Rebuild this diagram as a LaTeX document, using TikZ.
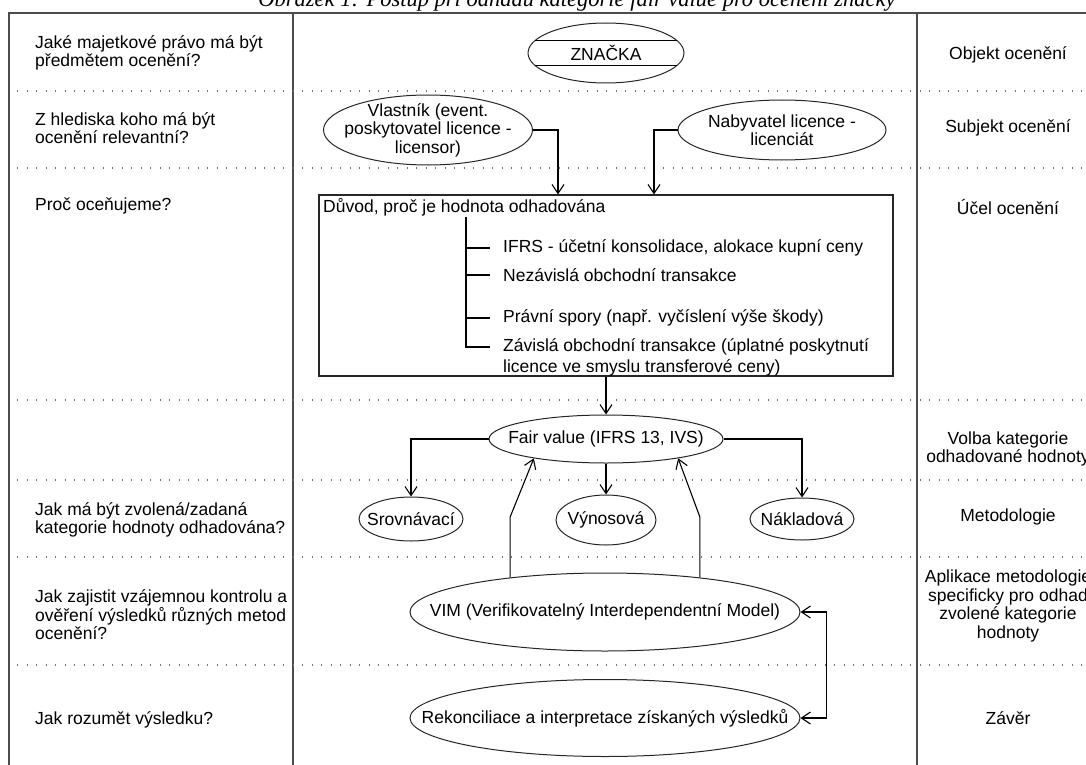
\documentclass[tikz,border=0pt]{standalone}
\usepackage{fontspec}
\setmainfont{Liberation Sans}
\newfontfamily\captionfont{Liberation Serif}
\usetikzlibrary{shapes.geometric,arrows.meta}

\tikzset{
    % Frame and row separators
    vo frame/.style={line width=1.5pt, black!70},
    vo rowline/.style={line width=1.2pt, black!55, dash pattern=on 1.2pt off 8.3pt},
    vo title/.style={font=\captionfont\itshape\fontsize{22.5pt}{24pt}\selectfont,
                     inner sep=0pt, anchor=base},
    % Texts
    vo txt/.style={font=\fontsize{17.5pt}{18.5pt}\selectfont, inner sep=0pt},
    vo ask/.style={vo txt, anchor=west, align=left},
    vo aim/.style={vo txt, align=center},
    % Shapes
    vo oval/.style={ellipse, draw=black!85, line width=1pt, inner sep=0pt},
    vo box/.style={rectangle, draw=black!85, line width=1.1pt},
    vo tree/.style={line width=1.1pt},
    vo arr/.style={-{Straight Barb[length=9pt,width=12pt]}, line width=1.1pt},
    vo both/.style={{Straight Barb[length=9pt,width=12pt]}-{Straight Barb[length=9pt,width=12pt]},
                    line width=1.1pt},
}

\begin{document}
\begin{tikzpicture}[x=1pt, y=-1pt]
    \useasboundingbox (0,0) rectangle (1086,765);
    \clip (0,0) rectangle (1086,765);
    % Caption (cut by the page top)
    \node[vo title] (caption) at (577,7)
        {Obrázek 1: Postup při odhadu kategorie fair value pro ocenění značky};
    % Frame
    \draw[vo frame] (1086,13) -- (9,13) -- (9,765);
    \draw[vo frame] (293,13) -- (293,765);
    \draw[vo frame] (917,13) -- (917,765);
    % Row separators
    \foreach \y in {91,168,400,480,557,665}
        \draw[vo rowline] (17,\y) -- (1086,\y);
    % Questions (left column)
    \node[vo ask] (q1) at (35,53) {Jaké majetkové právo má být\\předmětem ocenění?};
    \node[vo ask] (q2) at (35,128) {Z hlediska koho má být\\ocenění relevantní?};
    \node[vo ask] (q3) at (35,206) {Proč oceňujeme?};
    \node[vo ask] (q4) at (35,520) {Jak má být zvolená/zadaná\\kategorie hodnoty odhadována?};
    \node[vo ask] (q5) at (35,615)
        {Jak zajistit vzájemnou kontrolu a\\ověření výsledků různých metod\\ocenění?};
    \node[vo ask] (q6) at (35,720) {Jak rozumět výsledku?};
    % Steps (right column)
    \node[vo aim] (a1) at (1008,55) {Objekt ocenění};
    \node[vo aim] (a2) at (1008,128) {Subjekt ocenění};
    \node[vo aim] (a3) at (1008,207) {Účel ocenění};
    \node[vo aim] (a4) at (1008,449) {Volba kategorie\\odhadované hodnoty};
    \node[vo aim] (a5) at (1008,517) {Metodologie};
    \node[vo aim] (a6) at (1008,606)
        {Aplikace metodologie\\specificky pro odhad\\zvolené kategorie\\hodnoty};
    \node[vo aim] (a7) at (1008,718) {Závěr};
    % Object
    \node[vo oval, minimum width=156pt, minimum height=60pt] (znacka) at (606,53) {};
    \node[vo txt] at (znacka) {ZNAČKA};
    \draw[line width=1pt] (znacka.170) -- (znacka.10);
    \draw[line width=1pt] (znacka.190) -- (znacka.-10);
    % Subjects
    \node[vo oval, minimum width=209pt, minimum height=70pt] (vlastnik) at (428,130) {};
    \node[vo txt, align=center] at (vlastnik)
        {Vlastník (event.\\poskytovatel licence -\\licensor)};
    \node[vo oval, minimum width=208pt, minimum height=60pt] (nabyvatel) at (782,130) {};
    \node[vo txt, align=center] at (nabyvatel) {Nabyvatel licence -\\licenciát};
    % Purpose box
    \node[vo box, minimum width=574pt, minimum height=181pt] (duvod) at (606,285.5) {};
    \node[vo txt, anchor=west] (duvodlbl) at (323,207) {Důvod, proč je hodnota odhadována};
    \node[vo txt, anchor=west] (ifrs) at (503,248) {IFRS - účetní konsolidace, alokace kupní ceny};
    \node[vo txt, anchor=west] (nezav) at (503,275) {Nezávislá obchodní transakce};
    \node[vo txt, anchor=west] (spory) at (503,318) {Právní spory (např. vyčíslení výše škody)};
    \node[vo txt, anchor=west] (zavis) at (503,347) {Závislá obchodní transakce (úplatné poskytnutí};
    \node[vo txt, anchor=west] (zavis2) at (503,368) {licence ve smyslu transferové ceny)};
    \coordinate (trunk) at (466,217);
    \draw[vo tree] (trunk) |- ([xshift=-13pt]zavis.west);
    \foreach \item in {ifrs,nezav,spory}
        \draw[vo tree] (trunk |- \item.west) -- ([xshift=-13pt]\item.west);
    \draw[vo arr] (vlastnik.east) -| ([xshift=-48pt]duvod.north);
    \draw[vo arr] (nabyvatel.west) -| ([xshift=48pt]duvod.north);
    % Value category and methods
    \node[vo oval, minimum width=234pt, minimum height=48pt] (fair) at (606,439) {};
    \node[vo txt] at (fair) {Fair value (IFRS 13, IVS)};
    \node[vo oval, minimum width=104pt, minimum height=44pt] (srovn) at (411,519) {};
    \node[vo txt] at (srovn) {Srovnávací};
    \node[vo oval, minimum width=100pt, minimum height=50pt] (vynos) at (606,520) {};
    \node[vo txt] at (vynos) {Výnosová};
    \node[vo oval, minimum width=104pt, minimum height=42pt] (naklad) at (802,519) {};
    \node[vo txt] at (naklad) {Nákladová};
    \draw[vo arr] (duvod.south) -- (fair.north);
    \draw[vo arr] (fair.west) -| (srovn.north);
    \draw[vo arr] (fair.south) -- (vynos.north);
    \draw[vo arr] (fair.east) -| (naklad.north);
    % Verification and conclusion
    \node[vo oval, minimum width=390pt, minimum height=78pt] (vim) at (605,612) {};
    \node[vo txt] at (vim) {VIM (Verifikovatelný Interdependentní Model)};
    \node[vo oval, minimum width=390pt, minimum height=77pt] (rekon) at (605,718) {};
    \node[vo txt] at (rekon) {Rekonciliace a interpretace získaných výsledků};
    \coordinate (vimbend) at (606,517);
    \draw[vo arr] (vim.160) -- (vim.160 |- vimbend) -- (fair.195);
    \draw[vo arr] (vim.20) -- (vim.20 |- vimbend) -- (fair.-15);
    \draw[vo both] (vim.east) -- ++(26,0) |- (rekon.east);
\end{tikzpicture}
\end{document}
